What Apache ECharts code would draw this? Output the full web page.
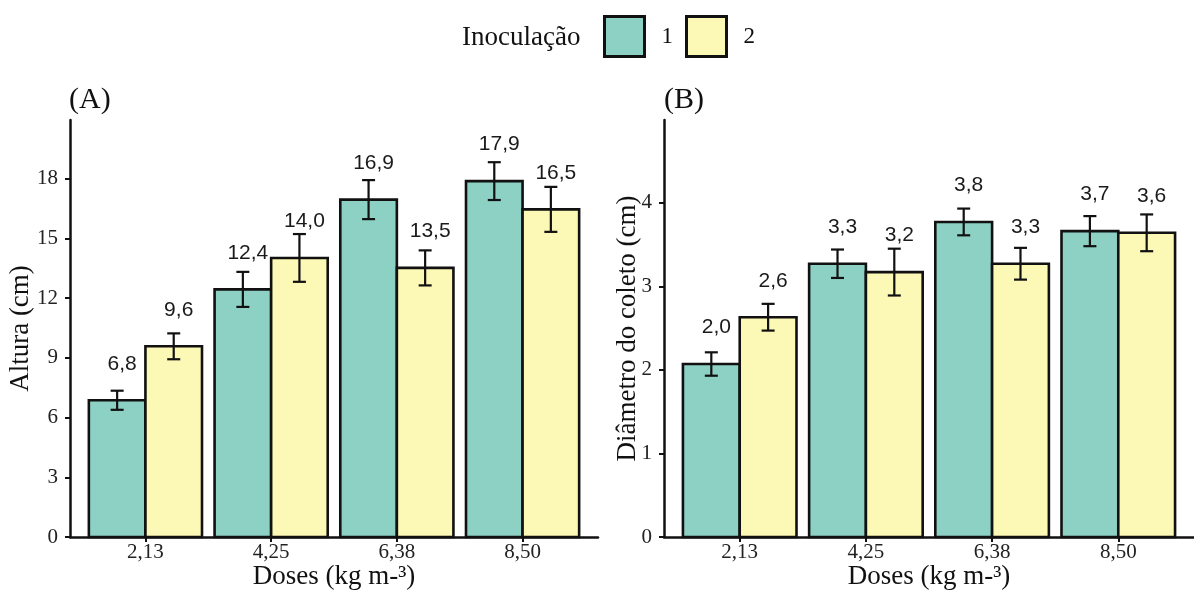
<!DOCTYPE html>
<html>
<head>
<meta charset="utf-8">
<script src="https://cdn.jsdelivr.net/npm/echarts@6/dist/echarts.min.js"></script>
<style>html,body{margin:0;padding:0;background:#fff;}#c{width:1194px;height:599px;}</style>
</head>
<body>
<div id="c"></div>
<script>
// ---- data ----
var doses = ['2,13', '4,25', '6,38', '8,50'];
var inoculacao = ['1', '2'];
var alturaInoc1 = [6.87, 12.44, 16.95, 17.88];
var alturaInoc2 = [9.58, 14.02, 13.52, 16.46];
var alturaErr1 = [0.48, 0.88, 0.98, 0.95];
var alturaErr2 = [0.65, 1.20, 0.88, 1.13];
var alturaLabels1 = ['6,8', '12,4', '16,9', '17,9'];
var alturaLabels2 = ['9,6', '14,0', '13,5', '16,5'];
var diamInoc1 = [2.07, 3.27, 3.77, 3.66];
var diamInoc2 = [2.63, 3.17, 3.27, 3.64];
var diamErr1 = [0.14, 0.17, 0.16, 0.18];
var diamErr2 = [0.16, 0.28, 0.19, 0.22];
var diamLabels1 = ['2,0', '3,3', '3,8', '3,7'];
var diamLabels2 = ['2,6', '3,2', '3,3', '3,6'];
var alturaTicks = [0, 3, 6, 9, 12, 15, 18];
var diamTicks = [0, 1, 2, 3, 4];

var SERIF = '"Liberation Serif", "Times New Roman", serif';
var SANS = '"Liberation Sans", Arial, sans-serif';
var colors = ['#8DD1C5', '#FCF8B6'];
var HALF = 0.225;

function makeRender(offset, labels) {
  return function (params, api) {
    var x = api.value(0), v = api.value(1), e = api.value(2);
    var p0 = api.coord([x + offset - HALF, v]);
    var p1 = api.coord([x + offset + HALF, 0]);
    var c = api.coord([x + offset, v + e]);
    var d = api.coord([x + offset, v - e]);
    var cap = 6.5;
    var ls = {stroke: '#111', lineWidth: 2.2};
    return {
      type: 'group',
      children: [
        {type: 'rect', shape: {x: p0[0], y: p0[1], width: p1[0] - p0[0], height: p1[1] - p0[1]},
         style: {fill: api.visual('color'), stroke: '#111', lineWidth: 2.6}},
        {type: 'line', shape: {x1: c[0], y1: c[1], x2: d[0], y2: d[1]}, style: ls},
        {type: 'line', shape: {x1: c[0] - cap, y1: c[1], x2: c[0] + cap, y2: c[1]}, style: ls},
        {type: 'line', shape: {x1: d[0] - cap, y1: d[1], x2: d[0] + cap, y2: d[1]}, style: ls},
        {type: 'text', z2: 10, style: {x: c[0] + 5, y: p0[1] - 26, text: labels[params.dataIndex],
          font: '21px ' + SANS, fill: '#1a1a1a', align: 'center', verticalAlign: 'bottom'}}
      ]
    };
  };
}

function build(vals, errs) {
  return doses.map(function (d, i) { return [i, vals[i], errs[i]]; });
}

function series(name, gi, offset, vals, errs, labels, color) {
  return {
    type: 'custom', name: name, xAxisIndex: gi, yAxisIndex: gi,
    renderItem: makeRender(offset, labels),
    data: build(vals, errs),
    encode: {x: 0, y: 1},
    itemStyle: {color: color, borderColor: '#111', borderWidth: 3},
    clip: false, silent: true
  };
}

function xAxis(gi) {
  return {
    type: 'value', gridIndex: gi, min: -0.6, max: 3.6,
    name: 'Doses (kg m-³)', nameLocation: 'middle', nameGap: 26, nameMoveOverlap: false,
    nameTextStyle: {fontFamily: SERIF, fontSize: 27, color: '#111'},
    axisLine: {show: true, onZero: false, lineStyle: {color: '#111', width: 2.5}},
    axisTick: {show: true, customValues: [0, 1, 2, 3], length: 5, lineStyle: {color: '#111', width: 2}},
    axisLabel: {customValues: [0, 1, 2, 3], margin: 5, fontFamily: SERIF, fontSize: 21, color: '#222',
      formatter: function (v) { return doses[Math.round(v)]; }},
    splitLine: {show: false}
  };
}

function yAxis(gi, name, max, ticks, gap) {
  return {
    type: 'value', gridIndex: gi, min: 0, max: max,
    name: name, nameLocation: 'middle', nameGap: gap, nameMoveOverlap: false,
    nameTextStyle: {fontFamily: SERIF, fontSize: 27, color: '#111'},
    axisLine: {show: true, onZero: false, lineStyle: {color: '#111', width: 2.5}},
    axisTick: {show: true, customValues: ticks, length: 5, lineStyle: {color: '#111', width: 2}},
    axisLabel: {customValues: ticks, margin: 12, fontFamily: SERIF, fontSize: 21, color: '#222'},
    splitLine: {show: false}
  };
}

var chart = echarts.init(document.getElementById('c'), null, {renderer: 'canvas'});
chart.setOption({
  animation: false,
  backgroundColor: '#fff',
  title: [
    {text: 'Inoculação', left: 462, top: 24, padding: 0, textStyle: {fontFamily: SERIF, fontSize: 27, fontWeight: 'normal', color: '#111'}},
    {text: '(A)', left: 69, top: 85, padding: 0, textStyle: {fontFamily: SERIF, fontSize: 30, fontWeight: 'normal', color: '#111'}},
    {text: '(B)', left: 664, top: 85, padding: 0, textStyle: {fontFamily: SERIF, fontSize: 30, fontWeight: 'normal', color: '#111'}}
  ],
  legend: {
    data: inoculacao, left: 603, top: 15, padding: 0, orient: 'horizontal',
    icon: 'rect', itemWidth: 40, itemHeight: 40, itemGap: 12,
    itemStyle: {borderColor: '#111', borderWidth: 3},
    textStyle: {fontFamily: SERIF, fontSize: 23, color: '#111', padding: [0, 0, 0, 12]},
    selectedMode: false
  },
  grid: [
    {left: 70, right: 596, top: 120, bottom: 62, containLabel: false},
    {left: 664, right: -8, top: 120, bottom: 62, containLabel: false}
  ],
  xAxis: [xAxis(0), xAxis(1)],
  yAxis: [yAxis(0, 'Altura (cm)', 20.95, alturaTicks, 36), yAxis(1, 'Diâmetro do coleto (cm)', 4.99, diamTicks, 23)],
  series: [
    series(inoculacao[0], 0, -HALF, alturaInoc1, alturaErr1, alturaLabels1, colors[0]),
    series(inoculacao[1], 0, HALF, alturaInoc2, alturaErr2, alturaLabels2, colors[1]),
    series(inoculacao[0], 1, -HALF, diamInoc1, diamErr1, diamLabels1, colors[0]),
    series(inoculacao[1], 1, HALF, diamInoc2, diamErr2, diamLabels2, colors[1])
  ]
});
</script>
</body>
</html>
